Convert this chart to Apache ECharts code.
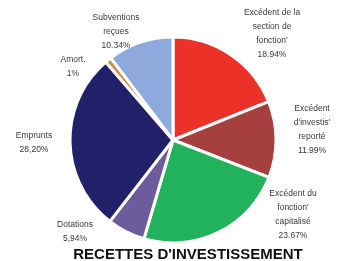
<!DOCTYPE html>
<html>
<head>
<meta charset="utf-8">
<script src="https://cdn.jsdelivr.net/npm/echarts@6/dist/echarts.min.js"></script>
<style>
  html, body { margin: 0; padding: 0; background: #fff; }
  #chart { width: 338px; height: 261px; }
</style>
</head>
<body>
<div id="chart"></div>
<script>
// parts of the investment income, in %
const names = [
  "Excédent de la\nsection de\nfonction'",
  "Excédent\nd'investis'\nreporté",
  "Excédent du\nfonction'\ncapitalisé",
  'Dotations',
  'Emprunts',
  'Amort.',
  'Subventions\nreçues'
];
const values = [18.94, 11.99, 23.67, 5.94, 28.20, 1, 10.34];
const valueText = ['18.94%', '11.99%', '23.67%', '5,94%', '28,20%', '1%', '10.34%'];
const colors = ['#ec3228', '#a6403f', '#22b25c', '#6c5c9c', '#202168', '#d38a4a', '#8ea9dc'];

// where each label sits (centre of the text block)
const labelPos = [[272, 34], [312, 130], [293, 215], [75, 232], [34, 143], [73, 67], [116, 32]];

const chart = echarts.init(document.getElementById('chart'));

chart.setOption({
  animation: false,
  title: {
    text: "RECETTES D'INVESTISSEMENT",
    left: 183,
    textAlign: 'center',
    top: 242,
    textStyle: { fontFamily: 'Liberation Sans', fontWeight: 'bold', fontSize: 15, color: '#111' }
  },
  series: [{
    type: 'pie',
    center: [173, 140],
    radius: 103,
    startAngle: 90,
    clockwise: true,
    itemStyle: { borderColor: '#fff', borderWidth: 3 },
    label: {
      show: true,
      formatter: (p) => p.name + '\n' + valueText[p.dataIndex],
      fontFamily: 'Liberation Sans',
      fontSize: 8.5,
      lineHeight: 14,
      color: '#3a3a3a',
      align: 'center',
      overflow: 'none',
      width: 90
    },
    labelLine: { show: false },
    labelLayout: (params) => ({
      x: labelPos[params.dataIndex][0],
      y: labelPos[params.dataIndex][1],
      align: 'center',
      verticalAlign: 'middle'
    }),
    data: values.map((v, i) => ({
      name: names[i],
      value: v,
      itemStyle: { color: colors[i] }
    }))
  }]
});
</script>
</body>
</html>
